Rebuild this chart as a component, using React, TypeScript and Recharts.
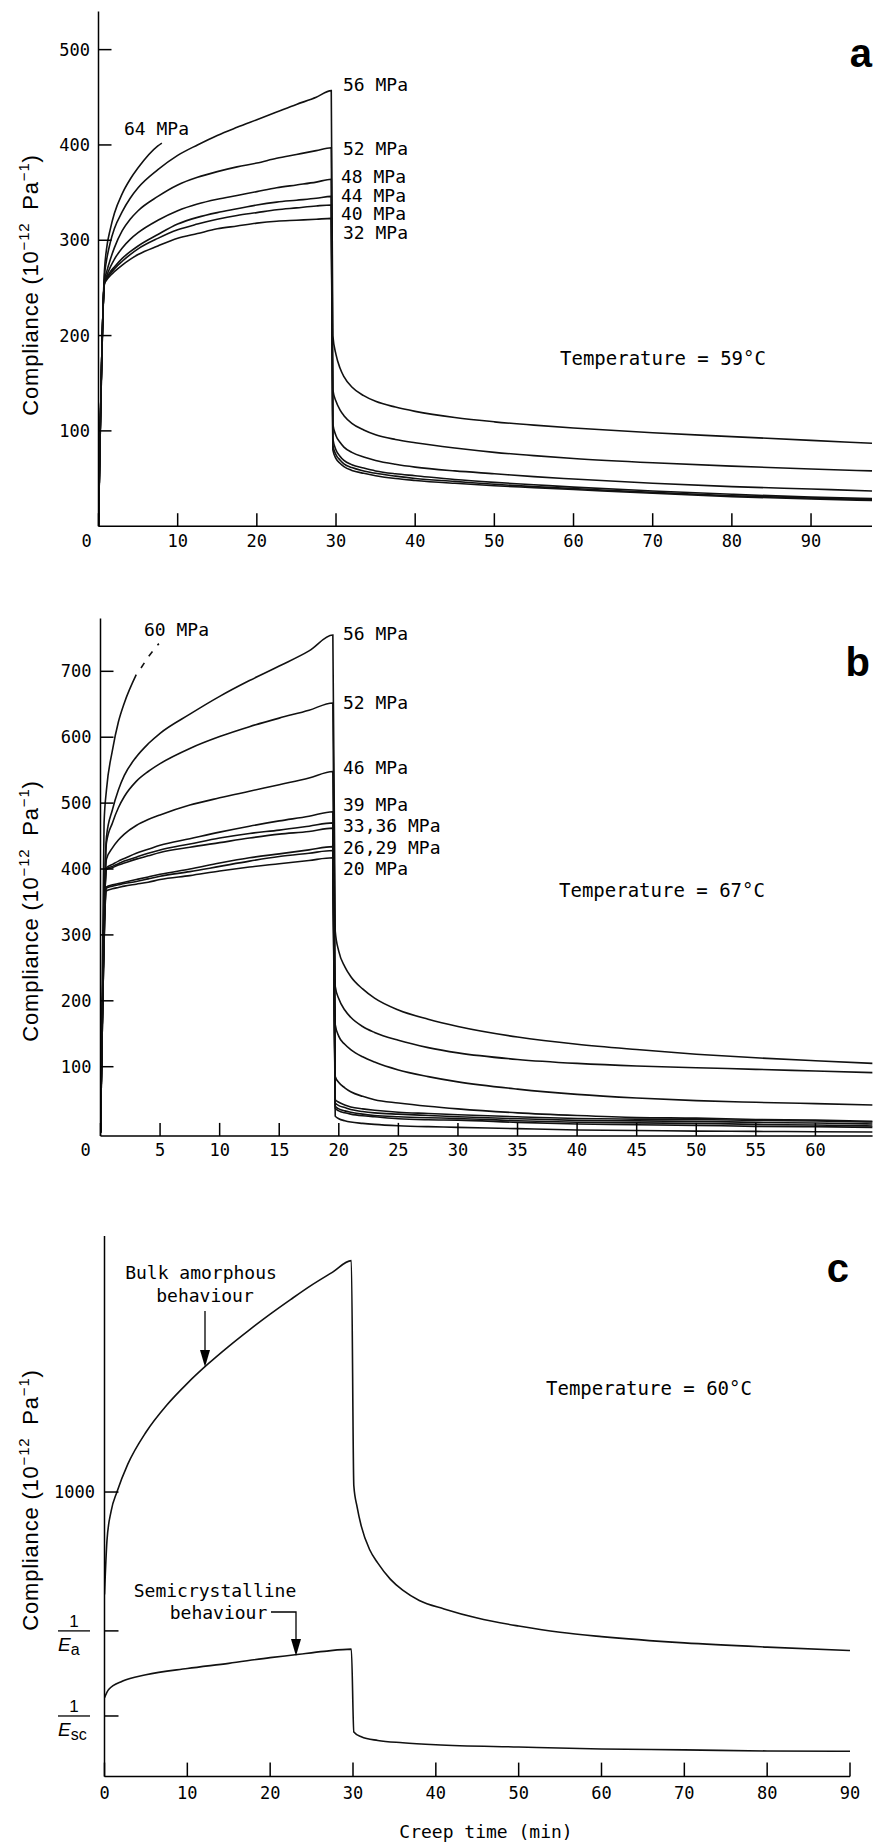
import React from 'react';
import { LineChart, Line, XAxis, YAxis } from 'recharts';

const mono = '"DejaVu Sans Mono", monospace';
const sans = '"Liberation Sans", Arial, sans-serif';

// ---------- panel a : 59 °C, 30 min creep then recovery ----------
const aTime = [0, 0.75, 1, 1.5, 2, 3, 4, 5, 7.5, 10, 12.5, 15, 17.5, 20, 22.5, 25, 27.5, 29.4,
  29.6, 30, 30.5, 31, 32, 33.5, 35, 37.5, 40, 45, 50, 55, 60, 70, 80, 90, 97.7];
const a56 = [0, 262, 278, 298, 312, 330, 344, 355, 374, 389, 400, 410, 418.5, 426.5, 434.5, 442.5, 450, 457,
  200, 180, 166, 157, 146, 137, 131, 125, 120.5, 114, 109.5, 106, 103, 98, 94, 90, 87];
const a52 = [0, 258, 266, 280, 292, 310, 322, 331, 346, 358, 366, 372, 377, 381, 386, 390, 394, 397,
  143, 131, 122, 116, 108, 101, 96, 91, 87.5, 82, 77.5, 74, 71, 66.5, 63, 60, 58];
const a48 = [0, 256, 262, 272, 280, 292, 301, 308, 321, 331, 338, 343, 347, 351, 355, 358, 361, 364,
  107, 95, 88, 83, 77.5, 72.5, 69, 65, 62, 58, 55, 52, 49.5, 45, 41.5, 39, 37];
const a44 = [0, 255, 260, 267, 272, 281, 288, 294, 306, 317, 324, 329, 333, 337, 340, 342, 344, 346,
  92, 80, 73.5, 69, 64.5, 61, 58, 55, 53, 49, 46, 43.5, 41, 37, 33.5, 30.5, 29];
const a40 = [0, 255, 259, 265, 270, 278, 285, 291, 302, 311, 317, 322, 326, 329, 332, 334, 336, 337,
  85, 75, 69.5, 65.5, 61.5, 58, 55.5, 52.5, 50, 47, 44, 41.5, 39.5, 35.5, 32, 29.5, 28];
const a32 = [0, 254, 258, 263, 267, 274, 280, 285, 294, 302, 307, 312, 315, 318, 320, 321, 322, 323,
  80, 71, 66, 62.5, 58.5, 55.5, 53, 50, 48, 45, 42.5, 40.5, 38.5, 34.5, 31, 28.5, 27];
const a64Time = [0, 0.75, 1, 1.5, 2, 3, 4, 5, 7.5, 8];
const a64 = [0, 268, 290, 312, 328, 349, 364, 376, 399, 402];
const aXTicks = [0, 10, 20, 30, 40, 50, 60, 70, 80, 90];
const aYTicks = [100, 200, 300, 400, 500];

// ---------- panel b : 67 °C, 20 min creep then recovery ----------
const bTime = [0, 0.5, 1, 1.5, 2, 3, 4, 5, 7.5, 10, 12.5, 15, 17.5, 19.5,
  19.7, 20, 20.5, 21, 22, 23, 25, 27.5, 30, 35, 40, 45, 50, 55, 60, 64.8];
const b56 = [0, 449, 490, 520, 542, 570, 590, 606, 635, 662, 686, 708, 731, 755,
  306, 275, 252, 237, 218, 204, 186, 172, 161, 145, 134, 126, 119, 113.5, 109, 105];
const b52 = [0, 440, 470, 493, 510, 533, 548, 560, 583, 601, 616, 629, 641, 652,
  222, 203, 186, 175, 161, 152, 140, 129, 121, 111, 105, 101, 98.5, 96, 93.5, 91];
const b46 = [0, 415, 432, 444, 453, 466, 475, 482, 497, 508, 518, 528, 538, 548,
  164, 146, 134, 126, 115, 107, 95, 85, 77, 66, 58, 52.5, 48.5, 46, 44, 42];
const b39 = [0, 402, 407, 412, 416, 424, 430, 436, 446, 456, 465, 473, 480, 487,
  85, 76, 68, 62, 55, 50, 45, 40, 36, 30, 26, 23, 22, 20, 19, 17];
const b36 = [0, 400, 404, 408, 412, 418, 424, 429, 438, 447, 454, 459, 465, 470,
  50, 46, 42, 39, 36, 34, 31, 29, 27, 24, 21.5, 20.5, 20, 18.5, 17.5, 16];
const b33 = [0, 399, 402, 406, 409, 415, 420, 425, 433, 440, 447, 453, 457, 462,
  45, 41, 38, 35, 32, 30, 28, 26, 24, 21, 18.6, 17.8, 17, 15.5, 14.5, 13];
const b29 = [0, 373, 376, 378, 380, 384, 388, 392, 400, 409, 417, 423, 429, 434,
  40, 36, 33, 31, 28, 26, 24, 22.5, 21.5, 18, 15.7, 14.8, 14, 12.5, 11.5, 10];
const b26 = [0, 371, 374, 376, 378, 381, 385, 389, 396, 404, 412, 419, 424, 428,
  37, 33, 30, 28, 25.5, 24, 21, 19.5, 19, 15.5, 13, 12, 11, 9.5, 9, 8];
const b20 = [0, 367, 370, 372, 374, 377, 380, 384, 390, 397, 403, 408, 413, 417,
  25, 21, 18, 16, 14, 12.5, 10.5, 9, 8, 6, 4, 3.2, 2.3, 1.8, 1.4, 1];
const b60Time = [0, 0.3, 0.5, 1, 1.5, 2, 3];
const b60 = [0, 470, 520, 580, 623, 652, 695];
const b60DotTime = [3.4, 4.1, 4.9];
const b60Dot = [705, 724, 742];
const bXTicks = [0, 5, 10, 15, 20, 25, 30, 35, 40, 45, 50, 55, 60];
const bYTicks = [100, 200, 300, 400, 500, 600, 700];

// ---------- panel c : 60 °C, bulk amorphous vs semicrystalline ----------
const cBulkTime = [0, 0.3, 0.8, 1.5, 2.8, 5, 7.5, 10, 12.5, 15, 17.5, 20, 22.5, 25, 27.5, 29.8,
  30.1, 30.5, 31, 32, 33, 34.5, 36, 38, 41, 45, 50, 55, 60, 70, 80, 90];
const cBulk = [640, 830, 933, 1000, 1097, 1210, 1305, 1382, 1450, 1512, 1570, 1625, 1677, 1727, 1772, 1813,
  1022, 947, 880, 798, 750, 694, 655, 619, 589, 557, 529, 507, 492, 470, 455, 443];
const cSemiTime = [0, 0.5, 2.2, 5, 10, 15, 20, 23, 26.5, 29.8, 30.1, 31, 33, 36, 40, 50, 60, 70, 80, 90];
const cSemi = [277, 306, 336, 358, 380, 398, 418, 428, 440, 448, 157, 140, 127, 119, 112, 104, 97, 94, 90, 89];
const cTickEsc = 213;
const cTickEa = 512;
const cTick1000 = 1000;
const cXTicks = [0, 10, 20, 30, 40, 50, 60, 70, 80, 90];
const cYTicks = [cTickEsc, cTickEa, cTick1000];

const pts = (ts: number[], vs: number[]) => ts.map((t, i) => ({ t, v: vs[i] }));

const axisStyle = { stroke: '#000', strokeWidth: 1.5 };
const tickFont = { fontSize: 17, fontFamily: mono, fill: '#000' };

const curve = (key: string, data: { t: number; v: number }[], dash?: string) => (
  <Line
    key={key}
    data={data}
    dataKey="v"
    type="monotone"
    stroke="#111"
    strokeWidth={1.6}
    strokeDasharray={dash}
    dot={false}
    activeDot={false}
    isAnimationActive={false}
  />
);

const xTick = (zeroShift: number, drop: number) => (p: any) => (
  <text
    x={p.x + (p.payload.value === 0 ? zeroShift : 0)}
    y={p.y + drop}
    textAnchor="middle"
    fontSize={17}
    fontFamily={mono}
    fill="#000"
  >
    {p.payload.value}
  </text>
);

function cYTick(p: any) {
  const v = p.payload.value;
  const x = p.x;
  const y = p.y;
  if (v === cTick1000) {
    return (
      <text x={x} y={y + 6} textAnchor="end" fontSize={17} fontFamily={mono} fill="#000">
        1000
      </text>
    );
  }
  const sub = v === cTickEa ? 'a' : 'sc';
  return (
    <g>
      <line x1={x - 37} x2={x - 5} y1={y} y2={y} stroke="#000" strokeWidth={1.3} />
      <text x={x - 21} y={y - 4} textAnchor="middle" fontSize={17} fontFamily={sans} fill="#000">1</text>
      <text x={x - 37} y={y + 20} fontSize={19} fontFamily={sans} fontStyle="italic" fill="#000">
        E<tspan dy={4} fontSize={16} fontStyle="normal">{sub}</tspan>
      </text>
    </g>
  );
}

function ComplianceLabel({ cy }: { cy: number }) {
  return (
    <text transform="rotate(-90)" x={-cy} y={38} textAnchor="middle" fontFamily={sans} fontSize={22} letterSpacing={0.8} fill="#000">
      Compliance (10<tspan dy={-9} fontSize={15}>−12</tspan>
      <tspan dy={9} dx={6}> Pa</tspan>
      <tspan dy={-9} fontSize={15}>−1</tspan>
      <tspan dy={9}>)</tspan>
    </text>
  );
}

const note = { fontFamily: mono, fontSize: 18, fill: '#000' } as const;
const letter = { fontFamily: sans, fontSize: 40, fontWeight: 700, fill: '#000', textAnchor: 'end' } as const;

export default function App() {
  return (
    <div style={{ position: 'absolute', left: 0, top: 0, width: 874, height: 1845, background: '#fff', overflow: 'hidden' }}>
      {/* panel a */}
      <div style={{ position: 'absolute', left: 0, top: 0 }}>
        <LineChart width={874} height={600} margin={{ top: 11.5, right: 2, bottom: 0, left: 0 }}>
          <XAxis type="number" dataKey="t" domain={[0, 97.7]} ticks={aXTicks} interval={0} height={73.8}
            tickSize={-13} tickMargin={13} axisLine={axisStyle} tickLine={axisStyle} tick={xTick(-12, 21)} allowDataOverflow />
          <YAxis type="number" domain={[0, 540]} ticks={aYTicks} interval={0} width={98.5}
            tickSize={-13} tickMargin={21.5} axisLine={axisStyle} tickLine={axisStyle} tick={tickFont} allowDataOverflow />
          {[a56, a52, a48, a44, a40, a32].map((vs, i) => curve('a' + i, pts(aTime, vs)))}
          {curve('a64', pts(a64Time, a64))}
        </LineChart>
      </div>

      {/* panel b */}
      <div style={{ position: 'absolute', left: 0, top: 580 }}>
        <LineChart width={874} height={600} margin={{ top: 38.6, right: 1.4, bottom: 0, left: 0 }}>
          <XAxis type="number" dataKey="t" domain={[0, 64.8]} ticks={bXTicks} interval={0} height={44.1}
            tickSize={-13} tickMargin={13} axisLine={axisStyle} tickLine={axisStyle} tick={xTick(-15, 20.5)} allowDataOverflow />
          <YAxis type="number" domain={[-5, 780]} ticks={bYTicks} interval={0} width={100.5}
            tickSize={-13} tickMargin={22} axisLine={axisStyle} tickLine={axisStyle} tick={tickFont} allowDataOverflow />
          {[b56, b52, b46, b39, b36, b33, b29, b26, b20].map((vs, i) => curve('b' + i, pts(bTime, vs)))}
          {curve('b60', pts(b60Time, b60))}
          {curve('b60d', pts(b60DotTime, b60Dot), '6 8')}
        </LineChart>
      </div>

      {/* panel c */}
      <div style={{ position: 'absolute', left: 0, top: 1180 }}>
        <LineChart width={874} height={665} margin={{ top: 55.9, right: 24, bottom: 0, left: 0 }}>
          <XAxis type="number" dataKey="t" domain={[0, 90]} ticks={cXTicks} interval={0} height={68.4}
            tickSize={-14} tickMargin={14} axisLine={axisStyle} tickLine={axisStyle} tick={xTick(0, 22.5)} allowDataOverflow />
          <YAxis type="number" domain={[0, 1900]} ticks={cYTicks} interval={0} width={104.5}
            tickSize={-14} tickMargin={23.5} axisLine={axisStyle} tickLine={axisStyle} tick={cYTick} allowDataOverflow />
          {curve('cBulk', pts(cBulkTime, cBulk))}
          {curve('cSemi', pts(cSemiTime, cSemi))}
        </LineChart>
      </div>

      {/* annotations */}
      <svg width={874} height={1845} style={{ position: 'absolute', left: 0, top: 0, pointerEvents: 'none' }}>
        <ComplianceLabel cy={285} />
        <ComplianceLabel cy={911} />
        <ComplianceLabel cy={1500} />

        <text x={124} y={135} {...note}>64 MPa</text>
        <text x={343} y={91} {...note}>56 MPa</text>
        <text x={343} y={154.5} {...note}>52 MPa</text>
        <text x={341} y={183} {...note}>48 MPa</text>
        <text x={341} y={201.5} {...note}>44 MPa</text>
        <text x={341} y={219.5} {...note}>40 MPa</text>
        <text x={343} y={238.5} {...note}>32 MPa</text>
        <text x={560} y={364.5} {...note} fontSize={19}>Temperature = 59°C</text>
        <text x={872} y={67} {...letter}>a</text>

        <text x={144} y={635.5} {...note}>60 MPa</text>
        <text x={343} y={640} {...note}>56 MPa</text>
        <text x={343} y={709} {...note}>52 MPa</text>
        <text x={343} y={774} {...note}>46 MPa</text>
        <text x={343} y={810.5} {...note}>39 MPa</text>
        <text x={343} y={831.5} {...note}>33,36 MPa</text>
        <text x={343} y={853.5} {...note}>26,29 MPa</text>
        <text x={343} y={874.5} {...note}>20 MPa</text>
        <text x={559} y={896.5} {...note} fontSize={19}>Temperature = 67°C</text>
        <text x={870} y={676} {...letter}>b</text>

        <text x={201} y={1279} {...note} textAnchor="middle">Bulk amorphous</text>
        <text x={205} y={1302} {...note} textAnchor="middle">behaviour</text>
        <line x1={205} x2={205} y1={1311} y2={1352} stroke="#000" strokeWidth={1.3} />
        <polygon points="200,1350 210,1350 205,1367" fill="#000" />
        <text x={546} y={1394.5} {...note} fontSize={19}>Temperature = 60°C</text>
        <text x={849} y={1282} {...letter}>c</text>
        <text x={215} y={1596.5} {...note} textAnchor="middle">Semicrystalline</text>
        <text x={218.5} y={1618.5} {...note} textAnchor="middle">behaviour</text>
        <polyline points="271,1612 296,1612 296,1640" fill="none" stroke="#000" strokeWidth={1.3} />
        <polygon points="291,1639 301,1639 296,1656" fill="#000" />
        <text x={486} y={1838} {...note} textAnchor="middle">Creep time (min)</text>
      </svg>
    </div>
  );
}
